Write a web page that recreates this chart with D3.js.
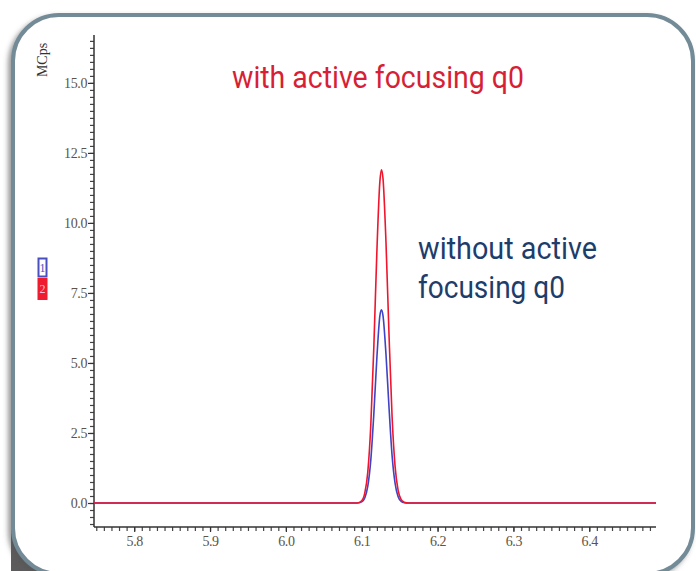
<!DOCTYPE html>
<html>
<head>
<meta charset="utf-8">
<script src="https://cdn.jsdelivr.net/npm/d3@7"></script>
<style>
  html, body { margin: 0; padding: 0; background: #fff; }
  svg { display: block; }
</style>
</head>
<body>
<div id="chart"></div>
<script>
// retention time (min) and intensity (MCps)
var times = [5.747, 6.094, 6.100, 6.104, 6.108, 6.112, 6.116, 6.120, 6.124, 6.126,
             6.128, 6.132, 6.136, 6.140, 6.144, 6.148, 6.152, 6.156, 6.162, 6.488];
var withFocusing = [0, 0, 0.08, 0.35, 1.1, 2.8, 5.6, 9.0, 11.5, 11.9,
                    11.6, 9.3, 6.0, 3.1, 1.3, 0.45, 0.12, 0.03, 0, 0];
var withoutFocusing = [0, 0, 0.04, 0.18, 0.6, 1.55, 3.2, 5.2, 6.7, 6.9,
                       6.7, 5.3, 3.4, 1.7, 0.7, 0.22, 0.06, 0.01, 0, 0];
var xTickValues = [5.8, 5.9, 6.0, 6.1, 6.2, 6.3, 6.4];
var yTickValues = [0, 2.5, 5.0, 7.5, 10.0, 12.5, 15.0];
var legendLabels = ["1", "2"];

var W = 696, H = 571;
var svg = d3.select("#chart").append("svg")
    .attr("width", W)
    .attr("height", H);

var defs = svg.append("defs");
var shadow = defs.append("filter").attr("id", "shadow")
    .attr("x", "-10%").attr("y", "-10%").attr("width", "120%").attr("height", "120%");
shadow.append("feDropShadow")
    .attr("dx", -3).attr("dy", 3)
    .attr("stdDeviation", 2.5)
    .attr("flood-color", "#555")
    .attr("flood-opacity", 0.6);

// dark corner behind the card (bottom left)
svg.append("rect")
    .attr("x", 11).attr("y", 530)
    .attr("width", 60).attr("height", 41)
    .attr("fill", "#5c5c5c");

// the card
svg.append("rect")
    .attr("x", 13).attr("y", 15)
    .attr("width", 680).attr("height", 559)
    .attr("rx", 46).attr("ry", 46)
    .attr("fill", "#fff")
    .attr("stroke", "#738b97")
    .attr("stroke-width", 4)
    .attr("filter", "url(#shadow)");

// scales
var x = d3.scaleLinear().domain([5.747, 6.488]).range([94, 656]);
var y = d3.scaleLinear().domain([-0.857, 16.71]).range([527, 35]);

var g = svg.append("g");

function labelStyle(sel) {
    sel.attr("font-family", "Liberation Serif, serif")
        .attr("font-size", 14)
        .attr("fill", "#5e5346")
        .attr("letter-spacing", "-0.4");
}

// y axis: minor ticks every 0.25, labels every 2.5
var yMinor = d3.range(-0.75, 16.71, 0.25);
g.append("g")
    .attr("transform", "translate(" + x.range()[0] + ",0)")
    .call(d3.axisLeft(y).tickValues(yMinor).tickSize(4).tickFormat(""))
    .call(function(a) {
        a.select(".domain").remove();
        a.selectAll("line").attr("stroke", "#444").attr("stroke-width", 1.2);
    });
g.append("g")
    .attr("transform", "translate(" + x.range()[0] + ",0)")
    .call(d3.axisLeft(y).tickValues(yTickValues).tickSize(6).tickPadding(1).tickFormat(d3.format(".1f")))
    .call(function(a) {
        a.select(".domain").remove();
        a.selectAll("line").attr("stroke", "#333").attr("stroke-width", 1.2);
        a.selectAll("text").call(labelStyle);
    });
g.append("line")
    .attr("x1", x.range()[0]).attr("x2", x.range()[0])
    .attr("y1", y.range()[1]).attr("y2", y.range()[0])
    .attr("stroke", "#333").attr("stroke-width", 1.5);

// x axis: minor ticks every 0.01
var xMinor = d3.range(5.75, 6.488, 0.01);
g.append("g")
    .attr("transform", "translate(0," + y.range()[0] + ")")
    .call(d3.axisBottom(x).tickValues(xMinor).tickSize(4).tickFormat(""))
    .call(function(a) {
        a.select(".domain").remove();
        a.selectAll("line").attr("stroke", "#444").attr("stroke-width", 1.2);
    });
g.append("g")
    .attr("transform", "translate(0," + y.range()[0] + ")")
    .call(d3.axisBottom(x).tickValues(xTickValues).tickSize(5).tickPadding(4).tickFormat(d3.format(".1f")))
    .call(function(a) {
        a.select(".domain").remove();
        a.selectAll("line").attr("stroke", "#333").attr("stroke-width", 1.2);
        a.selectAll("text").call(labelStyle);
    });
g.append("line")
    .attr("x1", x.range()[0]).attr("x2", x.range()[1])
    .attr("y1", y.range()[0]).attr("y2", y.range()[0])
    .attr("stroke", "#333").attr("stroke-width", 1.5);

// unit label
g.append("text")
    .attr("transform", "translate(47,60) rotate(-90)")
    .attr("text-anchor", "middle")
    .attr("font-family", "Liberation Serif, serif")
    .attr("font-size", 14)
    .attr("fill", "#333")
    .text("MCps");

// traces
var line = d3.line()
    .x(function(d) { return x(d[0]); })
    .y(function(d) { return y(d[1]); })
    .curve(d3.curveMonotoneX);

var series = [
    { values: withoutFocusing, color: "#3f44c4" },
    { values: withFocusing, color: "#f0152d" }
];
series.forEach(function(s) {
    g.append("path")
        .datum(times.map(function(t, i) { return [t, s.values[i]]; }))
        .attr("fill", "none")
        .attr("stroke", s.color)
        .attr("stroke-width", 1.6)
        .attr("d", line);
});

// legend stubs on the left
var legend = g.append("g");
legend.append("rect")
    .attr("x", 38.5).attr("y", 258.5).attr("width", 8).attr("height", 18)
    .attr("fill", "#fff").attr("stroke", "#4a4fc0").attr("stroke-width", 2);
legend.append("text")
    .attr("x", 42.5).attr("y", 272).attr("text-anchor", "middle")
    .attr("font-family", "Liberation Serif, serif").attr("font-size", 12)
    .attr("fill", "#4a4fc0").text(legendLabels[0]);
legend.append("rect")
    .attr("x", 37.5).attr("y", 278).attr("width", 10).attr("height", 22)
    .attr("fill", "#ee1c2e");
legend.append("text")
    .attr("x", 42.5).attr("y", 293).attr("text-anchor", "middle")
    .attr("font-family", "Liberation Serif, serif").attr("font-size", 12)
    .attr("fill", "#fbd").text(legendLabels[1]);

// annotations
g.append("text")
    .attr("x", 232).attr("y", 88)
    .attr("font-family", "Roboto, sans-serif")
    .attr("font-size", 31)
    .attr("fill", "#d71f35")
    .attr("textLength", 292).attr("lengthAdjust", "spacingAndGlyphs")
    .text("with active focusing q0");
g.append("text")
    .attr("x", 418).attr("y", 259)
    .attr("font-family", "Roboto, sans-serif")
    .attr("font-size", 31)
    .attr("fill", "#1d3d6b")
    .attr("textLength", 179).attr("lengthAdjust", "spacingAndGlyphs")
    .text("without active");
g.append("text")
    .attr("x", 418).attr("y", 298)
    .attr("font-family", "Roboto, sans-serif")
    .attr("font-size", 31)
    .attr("fill", "#1d3d6b")
    .attr("textLength", 147).attr("lengthAdjust", "spacingAndGlyphs")
    .text("focusing q0");
</script>
</body>
</html>
